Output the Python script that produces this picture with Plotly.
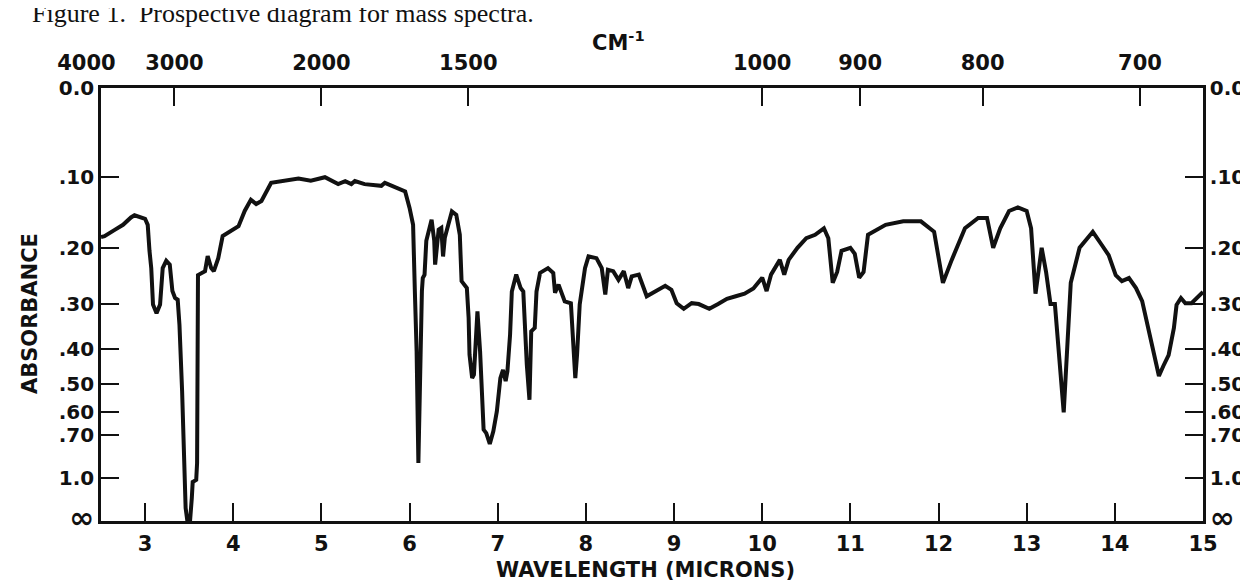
import plotly.graph_objects as go

# ---------------- data ----------------
# wavelength in microns
WAVELENGTH = [
    2.50, 2.54, 2.66, 2.75, 2.84, 2.88, 3.00, 3.03, 3.05, 3.07, 3.09, 3.13, 3.17, 3.20, 3.24, 3.28,
    3.31, 3.34, 3.37, 3.39, 3.42, 3.44, 3.46, 3.49, 3.51, 3.53, 3.54, 3.58, 3.59, 3.60, 3.64, 3.68,
    3.71, 3.75, 3.78, 3.83, 3.88, 3.98, 4.06, 4.13, 4.20, 4.26, 4.32, 4.43, 4.59, 4.74, 4.88, 5.04,
    5.19, 5.27, 5.34, 5.38, 5.49, 5.68, 5.72, 5.87, 5.95, 6.00, 6.04, 6.06, 6.08, 6.10, 6.12, 6.14,
    6.15, 6.17, 6.19, 6.25, 6.28, 6.29, 6.33, 6.36, 6.38, 6.40, 6.43, 6.48, 6.53, 6.57, 6.58, 6.59,
    6.65, 6.67, 6.68, 6.71, 6.73, 6.77, 6.80, 6.82, 6.84, 6.87, 6.91, 6.95, 6.99, 7.03, 7.06, 7.09,
    7.11, 7.14, 7.16, 7.21, 7.26, 7.29, 7.31, 7.33, 7.36, 7.38, 7.42, 7.44, 7.48, 7.57, 7.63, 7.65,
    7.69, 7.72, 7.76, 7.83, 7.86, 7.88, 7.90, 7.93, 7.99, 8.03, 8.12, 8.18, 8.22, 8.25, 8.31, 8.37,
    8.43, 8.48, 8.52, 8.60, 8.69, 8.78, 8.90, 8.97, 9.03, 9.11, 9.20, 9.28, 9.40, 9.50, 9.60, 9.70,
    9.80, 9.90, 9.95, 10.00, 10.05, 10.10, 10.20, 10.25, 10.30, 10.40, 10.50, 10.60, 10.70, 10.75,
    10.80, 10.85, 10.90, 11.00, 11.05, 11.10, 11.15, 11.20, 11.40, 11.60, 11.80, 11.95, 12.05, 12.15,
    12.30, 12.45, 12.55, 12.62, 12.70, 12.80, 12.90, 13.00, 13.05, 13.10, 13.17, 13.22, 13.27, 13.32,
    13.42, 13.50, 13.60, 13.75, 13.85, 13.93, 14.01, 14.08, 14.16, 14.24, 14.31, 14.38, 14.50, 14.55,
    14.61, 14.67, 14.70, 14.75, 14.80, 14.87, 14.95, 15.00,
]
# percent transmittance (the absorbance scale of the chart is linear in transmittance)
TRANSMITTANCE = [
    65.6, 65.8, 67.3, 68.4, 70.1, 70.6, 69.8, 68.4, 62.4, 58.4, 50.0, 48.0, 50.0, 58.4, 60.1, 59.2,
    53.1, 51.5, 51.1, 45.3, 30.0, 14.5, 3.0, -1.6, 0.0, 5.3, 9.0, 9.5, 13.4, 56.8, 57.3, 57.7,
    61.2, 58.4, 57.7, 60.7, 65.8, 67.0, 68.1, 71.6, 74.2, 73.2, 73.9, 78.1, 78.6, 79.1, 78.6, 79.4,
    77.8, 78.5, 77.8, 78.5, 77.8, 77.4, 78.1, 76.7, 76.1, 72.3, 68.4, 53.1, 39.3, 13.4, 37.6, 53.1,
    56.1, 56.9, 64.7, 69.6, 64.7, 59.2, 67.3, 67.7, 61.1, 65.4, 67.7, 71.5, 70.7, 66.1, 60.7, 55.4,
    53.8, 46.9, 38.4, 33.0, 33.8, 48.4, 39.2, 26.9, 21.1, 20.3, 17.8, 20.7, 25.3, 33.0, 34.9, 32.3,
    34.6, 43.0, 53.0, 56.9, 53.8, 53.0, 43.8, 36.1, 28.0, 43.8, 44.6, 53.0, 57.3, 58.4, 57.3, 52.7,
    54.6, 53.0, 50.7, 50.3, 38.4, 33.0, 38.4, 50.0, 58.4, 61.1, 60.7, 58.4, 52.3, 58.0, 57.7, 55.7,
    57.7, 53.8, 56.5, 56.9, 51.9, 53.0, 54.3, 53.4, 50.3, 49.0, 50.3, 50.1, 49.0, 50.1, 51.3, 51.9,
    52.5, 53.7, 55.0, 56.2, 53.1, 56.9, 60.3, 56.9, 60.3, 63.1, 65.3, 66.1, 67.6, 65.3,
    55.0, 57.5, 62.4, 63.1, 61.7, 56.2, 57.5, 66.1, 68.4, 69.2, 69.2, 66.8, 55.0, 60.3,
    67.6, 70.0, 70.0, 63.1, 67.6, 71.6, 72.4, 71.6, 67.6, 52.5, 63.1, 57.5, 50.1, 50.1,
    25.1, 55.0, 63.1, 66.8, 63.8, 61.4, 56.8, 55.4, 56.1, 53.8, 50.8, 44.6, 33.5, 35.8,
    38.3, 44.6, 49.9, 51.5, 50.3, 50.3, 52.0, 52.9,
]

MICRON_TICKS = [3, 4, 5, 6, 7, 8, 9, 10, 11, 12, 13, 14, 15]
MICRON_LABELS = [str(v) for v in MICRON_TICKS]

WAVENUMBER_TICKS = [4000, 3000, 2000, 1500, 1000, 900, 800, 700]
WAVENUMBER_LABELS = ["4000", "3000", "2000", "1500", "1000", "900", "800", "700"]

ABSORBANCE_TICKS = [0.0, 0.1, 0.2, 0.3, 0.4, 0.5, 0.6, 0.7, 1.0, None]  # None = infinity
ABSORBANCE_LABELS = ["0.0", ".10", ".20", ".30", ".40", ".50", ".60", ".70", "1.0", "\u221e"]

# ---------------- derived tick positions / texts ----------------
NB = "\u00a0"
wn_pos = [10000.0 / v for v in WAVENUMBER_TICKS]
wn_text = list(WAVENUMBER_LABELS)
wn_text[0] = wn_text[0] + NB * 4          # label sits left of the corner
abs_pos = [0.0 if a is None else 100.0 * 10 ** (-a) for a in ABSORBANCE_TICKS]
abs_text = [("<span style='font-size:30px'>%s</span>" % t) if t == "\u221e" else t
            for t in ABSORBANCE_LABELS]

FONT = "DejaVu Sans"
BLACK = "#111111"
XFONT = dict(family=FONT, size=21, color=BLACK, weight="bold")
YFONT = dict(family=FONT, size=20, color=BLACK, weight="bold")

fig = go.Figure()
fig.add_trace(go.Scatter(
    x=WAVELENGTH, y=TRANSMITTANCE, mode="lines",
    line=dict(color=BLACK, width=4, shape="linear"),
    hoverinfo="skip", showlegend=False,
))
# invisible companion trace so the top / right axes are drawn
fig.add_trace(go.Scatter(
    x=WAVELENGTH, y=TRANSMITTANCE, mode="lines", xaxis="x2", yaxis="y2",
    line=dict(color="rgba(0,0,0,0)", width=0), hoverinfo="skip", showlegend=False,
))

common_axis = dict(
    showgrid=False, zeroline=False, showline=True, linecolor=BLACK, linewidth=2.6,
    ticks="inside", ticklen=18, tickwidth=2.2, tickcolor=BLACK,
    automargin=False, tickangle=0,
)

fig.update_layout(
    width=1248, height=581,
    margin=dict(l=93, r=53, t=80, b=68, autoexpand=False),
    plot_bgcolor="white", paper_bgcolor="white",
    showlegend=False,
    xaxis=dict(
        range=[2.5, 15], tickmode="array", tickvals=MICRON_TICKS, ticktext=MICRON_LABELS,
        ticklabelstandoff=2, tickfont=XFONT, **common_axis,
    ),
    xaxis2=dict(
        range=[2.5, 15], overlaying="x", side="top", anchor="y",
        tickmode="array", tickvals=wn_pos, ticktext=wn_text,
        ticklabelstandoff=7, tickfont=XFONT, **common_axis,
    ),
    yaxis=dict(
        range=[0, 100], tickmode="array", tickvals=abs_pos, ticktext=abs_text,
        tickfont=YFONT, **common_axis,
    ),
    yaxis2=dict(
        range=[0, 100], overlaying="y", side="right", anchor="x",
        tickmode="array", tickvals=abs_pos, ticktext=abs_text,
        tickfont=YFONT, **common_axis,
    ),
    annotations=[
        dict(text="Figure 1.  Prospective diagram for mass spectra.", xref="paper", yref="paper",
             x=-0.064, y=1.173, xanchor="left", yanchor="middle", showarrow=False,
             font=dict(family="Liberation Serif", size=26, color=BLACK)),
        dict(text="CM<sup>-1</sup>", xref="paper", yref="paper",
             x=0.470, y=1.108, xanchor="center", yanchor="middle", showarrow=False,
             font=dict(family=FONT, size=21, color=BLACK, weight="bold")),
        dict(text="WAVELENGTH (MICRONS)", xref="paper", yref="paper",
             x=0.494, y=-0.113, xanchor="center", yanchor="middle", showarrow=False,
             font=dict(family=FONT, size=21, color=BLACK, weight="bold")),
        dict(text="ABSORBANCE", xref="paper", yref="paper", textangle=-90,
             x=-0.0644, y=0.478, xanchor="center", yanchor="middle", showarrow=False,
             font=dict(family=FONT, size=21, color=BLACK, weight="bold")),
    ],
)

fig.write_html("out.html")
